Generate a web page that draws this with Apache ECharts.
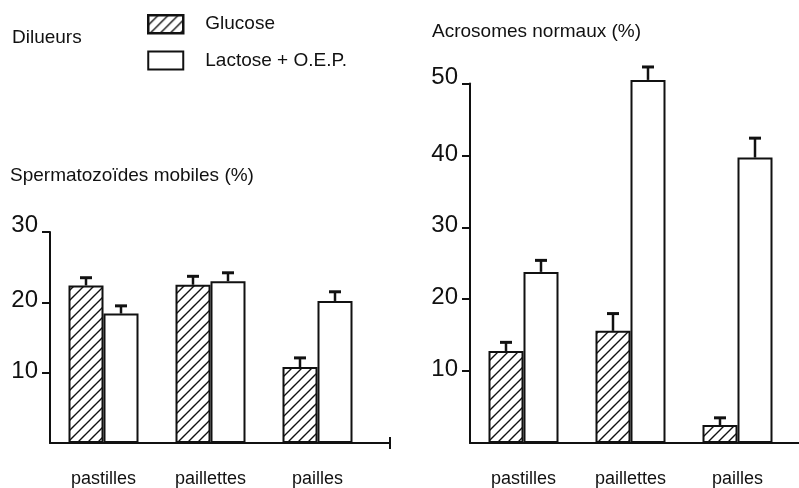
<!DOCTYPE html>
<html>
<head>
<meta charset="utf-8">
<script src="https://cdn.jsdelivr.net/npm/echarts@6/dist/echarts.min.js"></script>
<style>
html,body{margin:0;padding:0;background:#fff;}
#chart{width:799px;height:488px;}
</style>
</head>
<body>
<div id="chart"></div>
<script>
// ---- data ----
const categories = ['pastilles', 'paillettes', 'pailles'];
const seriesNames = ['Glucose', 'Lactose + O.E.P.'];
// Spermatozoïdes mobiles (%)
const mobGlucose = [22.4, 22.5, 10.8];
const mobGlucoseErr = [23.5, 23.7, 12.1];
const mobLactose = [18.4, 23.0, 20.2];
const mobLactoseErr = [19.5, 24.2, 21.5];
const mobTicks = [0, 10, 20, 30];
// Acrosomes normaux (%)
const acroGlucose = [12.8, 15.6, 2.5];
const acroGlucoseErr = [14.0, 18.0, 3.5];
const acroLactose = [23.8, 50.5, 39.7];
const acroLactoseErr = [25.4, 52.3, 42.4];
const acroTicks = [0, 10, 20, 30, 40, 50];

// ---- style ----
const FONT = '"Liberation Sans", Arial, Helvetica, sans-serif';
const INK = '#111';
const BAR_W = 35;

function hatchCanvas() {
  const c = document.createElement('canvas');
  c.width = 10; c.height = 10;
  const g = c.getContext('2d');
  g.fillStyle = '#fff'; g.fillRect(0, 0, 10, 10);
  g.strokeStyle = '#111'; g.lineWidth = 1.4;
  g.beginPath();
  g.moveTo(-2, 12); g.lineTo(12, -2);
  g.moveTo(-2, 2); g.lineTo(2, -2);
  g.moveTo(8, 12); g.lineTo(12, 8);
  g.stroke();
  return c;
}
const hatch = { image: hatchCanvas(), repeat: 'repeat' };

const glucoseStyle = { color: hatch, borderColor: INK, borderWidth: 2 };
const lactoseStyle = { color: '#fff', borderColor: INK, borderWidth: 2 };

const grids = [
  { left: 50, top: 232, width: 321, height: 212 },
  { left: 470, top: 83.5, width: 321, height: 360.5 }
];
// how far each x axis line runs past its grid (right end)
const axisExtEnd = [390, 799];

function xAxisFor(i) {
  return {
    type: 'category', gridIndex: i, data: categories,
    axisLine: { lineStyle: { color: INK, width: 2 } },
    axisTick: { show: false },
    axisLabel: { color: INK, fontFamily: FONT, fontSize: 18, margin: 27 }
  };
}
function yAxisFor(i, ticks) {
  const top = ticks[ticks.length - 1];
  return {
    type: 'value', gridIndex: i, min: ticks[0], max: top,
    interval: ticks[1] - ticks[0],
    splitLine: { show: false },
    axisLine: { show: true, lineStyle: { color: INK, width: 2 } },
    axisTick: { show: true, length: 8, lineStyle: { color: INK, width: 2 } },
    axisLabel: {
      showMinLabel: false, color: INK, fontFamily: FONT, fontSize: 24,
      margin: 12, padding: [0, 0, 3, 0],
      formatter: function (v) { return v === top ? '{t|' + v + '}' : String(v); },
      rich: { t: { color: INK, fontFamily: FONT, fontSize: 24, padding: [0, 0, 10, 0] } }
    }
  };
}

function errSeries(i, vals, errs, side) {
  return {
    type: 'custom', xAxisIndex: i, yAxisIndex: i, silent: true, clip: false, z: 5,
    data: vals.map((v, k) => [k, v, errs[k]]),
    renderItem: function (params, api) {
      const base = api.coord([api.value(0), api.value(1)]);
      const top = api.coord([api.value(0), api.value(2)]);
      const x = base[0] + side * BAR_W / 2;
      return {
        type: 'group',
        children: [
          { type: 'line', shape: { x1: x, y1: base[1], x2: x, y2: top[1] },
            style: { stroke: INK, lineWidth: 2.5 } },
          { type: 'line', shape: { x1: x - 6, y1: top[1], x2: x + 6, y2: top[1] },
            style: { stroke: INK, lineWidth: 3 } }
        ]
      };
    }
  };
}
function barSeries(i, name, vals, style) {
  return {
    type: 'bar', name: name, xAxisIndex: i, yAxisIndex: i, data: vals,
    barWidth: BAR_W, barGap: '0%', clip: false, itemStyle: style,
    emphasis: { disabled: true }
  };
}

const titleStyle = { color: INK, fontFamily: FONT, fontSize: 19, fontWeight: 'normal' };

const option = {
  animation: false,
  backgroundColor: '#fff',
  title: [
    { text: 'Dilueurs', left: 12, top: 28, padding: 0, textStyle: titleStyle },
    { text: 'Spermatozoïdes mobiles (%)', left: 10, top: 166, padding: 0, textStyle: titleStyle },
    { text: 'Acrosomes normaux (%)', left: 432, top: 22, padding: 0, textStyle: titleStyle }
  ],
  legend: {
    orient: 'vertical', left: 147, top: 14, padding: 0,
    itemWidth: 35, itemHeight: 18, itemGap: 16, icon: 'rect',
    selectedMode: false,
    textStyle: { color: INK, fontFamily: FONT, fontSize: 19, padding: [0, 0, 0, 17] },
    data: [
      { name: seriesNames[0], itemStyle: { color: hatch, borderColor: INK, borderWidth: 2.5 } },
      { name: seriesNames[1], itemStyle: { color: '#fff', borderColor: INK, borderWidth: 2 } }
    ]
  },
  grid: grids,
  xAxis: [xAxisFor(0), xAxisFor(1)],
  yAxis: [yAxisFor(0, mobTicks), yAxisFor(1, acroTicks)],
  series: [
    barSeries(0, seriesNames[0], mobGlucose, glucoseStyle),
    barSeries(0, seriesNames[1], mobLactose, lactoseStyle),
    barSeries(1, seriesNames[0], acroGlucose, glucoseStyle),
    barSeries(1, seriesNames[1], acroLactose, lactoseStyle),
    errSeries(0, mobGlucose, mobGlucoseErr, -1),
    errSeries(0, mobLactose, mobLactoseErr, 1),
    errSeries(1, acroGlucose, acroGlucoseErr, -1),
    errSeries(1, acroLactose, acroLactoseErr, 1)
  ]
};

const chart = echarts.init(document.getElementById('chart'), null, { renderer: 'canvas' });
chart.setOption(option);

// extend the x axis lines past the grids, aligned with the drawn axes
const gfx = [];
grids.forEach(function (g, i) {
  const y0 = Math.round(chart.convertToPixel({ yAxisIndex: i }, 0));
  const xEnd = g.left + g.width;
  gfx.push({ type: 'line', shape: { x1: xEnd - 1, y1: y0, x2: axisExtEnd[i], y2: y0 },
             style: { stroke: INK, lineWidth: 2 } });
  if (i === 0) {
    gfx.push({ type: 'line', shape: { x1: axisExtEnd[i], y1: y0 - 6, x2: axisExtEnd[i], y2: y0 + 6 },
               style: { stroke: INK, lineWidth: 2 } });
  }
});
chart.setOption({ graphic: gfx });
</script>
</body>
</html>
